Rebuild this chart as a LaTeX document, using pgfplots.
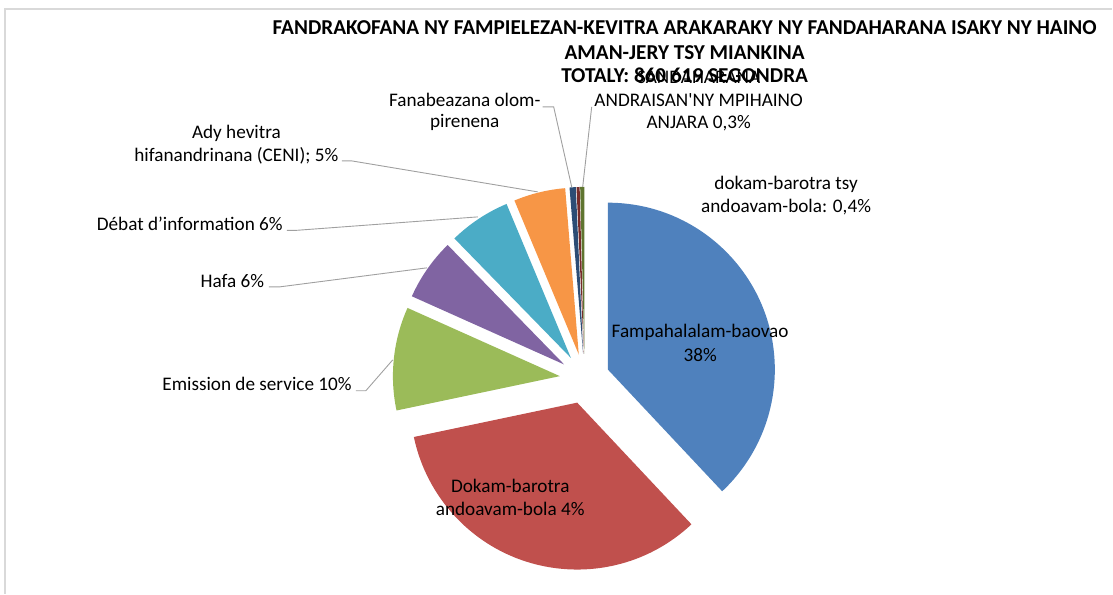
\documentclass[border=0pt]{standalone}
\usepackage{pgfplots}
\pgfplotsset{compat=1.18}
\usepackage{pgfplotstable}
\usepackage{fontspec}
\setmainfont{Carlito}
\newfontfamily\nomap{Carlito}
\definecolor{c1}{HTML}{4F81BD}
\definecolor{c2}{HTML}{C0504D}
\definecolor{c3}{HTML}{9BBB59}
\definecolor{c4}{HTML}{8064A2}
\definecolor{c5}{HTML}{4BACC6}
\definecolor{c6}{HTML}{F79646}
\definecolor{c7}{HTML}{2C4D75}
\definecolor{c8}{HTML}{772C2A}
\definecolor{c9}{HTML}{5F7530}
\definecolor{leader}{HTML}{A0A0A0}
\pgfplotstableread{
value col
38   c1
33.7 c2
10   c3
6    c4
6    c5
5    c6
0.6  c7
0.3  c8
0.4  c9
}\piedata
\newcommand{\lbl}{\fontsize{19.2}{23}\selectfont}
\newcommand{\ttl}{\bfseries\fontsize{21.2}{24.5}\selectfont}
% centred line of text with its baseline at (x,y)
\newcommand{\cl}[3]{\node[font=\lbl, anchor=base, inner sep=0pt] at (axis cs:#1,#2) {#3};}
% right-aligned line of text
\newcommand{\rl}[3]{\node[font=\lbl, anchor=base east, inner sep=0pt] at (axis cs:#1,#2) {#3};}
\newcommand{\tl}[3]{\node[font=\ttl, anchor=base, inner sep=0pt] at (axis cs:#1,#2) {#3};}
\begin{document}
\begin{tikzpicture}
\begin{axis}[x=1pt,y=1pt,xmin=0,xmax=1113,ymin=0,ymax=594,y dir=reverse,hide axis,clip=false]
% full picture area as bounding box
\path (axis cs:0,0) -- (axis cs:1113,594);
\pgfplotsextra{
  \xdef\cum{90}
  \foreach \i in {0,...,8}{
    \pgfplotstablegetelem{\i}{value}\of\piedata \let\sliceval\pgfplotsretval
    \pgfplotstablegetelem{\i}{col}\of\piedata \let\slicecol\pgfplotsretval
    \pgfmathsetmacro\sa{\cum}
    \pgfmathsetmacro\ea{\cum-3.6*\sliceval}
    \pgfmathsetmacro\ma{(\sa+\ea)/2}
    \fill[fill=\slicecol] (axis cs:585,379) ++(\ma:25pt) -- ++(\sa:167pt) arc[start angle=\sa, end angle=\ea, radius=167pt] -- cycle;
    \xdef\cum{\ea}
  }
}
% frame
\draw[gray!30, line width=1.2pt] (axis cs:5,594) -- (axis cs:5,9) -- (axis cs:1113,9);
% leader lines
\draw[leader, line width=0.9pt] (axis cs:342,161) -- (axis cs:352,161) -- (axis cs:538,192);
\draw[leader, line width=0.9pt] (axis cs:287,230.5) -- (axis cs:296,230.5) -- (axis cs:478,217);
\draw[leader, line width=0.9pt] (axis cs:269,287) -- (axis cs:280,287) -- (axis cs:427,268);
\draw[leader, line width=0.9pt] (axis cs:356,391) -- (axis cs:366,391) -- (axis cs:393,360);
\draw[leader, line width=0.9pt] (axis cs:543,107) -- (axis cs:554,107) -- (axis cs:572,187);
\draw[leader, line width=0.9pt] (axis cs:592,107) -- (axis cs:583,187);
% title
\tl{685}{35}{FANDRAKOFANA NY FAMPIELEZAN-KEVITRA ARAKARAKY NY FANDAHARANA ISAKY NY HAINO}
\tl{685}{59.5}{AMAN-JERY TSY MIANKINA}
\tl{685}{83}{TOTALY: 860 619 SEGONDRA}
% labels
\cl{699}{84}{SANDAHARANA}
\cl{699}{106.5}{ANDRAISAN{\nomap '}NY MPIHAINO}
\cl{699}{129}{ANJARA 0,3\%}
\cl{465}{106.5}{Fanabeazana olom-}
\cl{465}{128}{pirenena}
\cl{786.5}{189.5}{dokam-barotra tsy}
\cl{786.5}{212.5}{andoavam-bola: 0,4\%}
\cl{236.5}{138.5}{Ady hevitra}
\cl{236.5}{161.5}{hifanandrinana (CENI); 5\%}
\rl{283}{230.5}{Débat d’information 6\%}
\rl{264.5}{287.5}{Hafa 6\%}
\rl{352}{390.5}{Emission de service 10\%}
\cl{700.5}{338}{Fampahalalam-baovao}
\cl{700.5}{362}{38\%}
\cl{510.5}{493}{Dokam-barotra}
\cl{510.5}{516}{andoavam-bola 4\%}
\end{axis}
\end{tikzpicture}
\end{document}
